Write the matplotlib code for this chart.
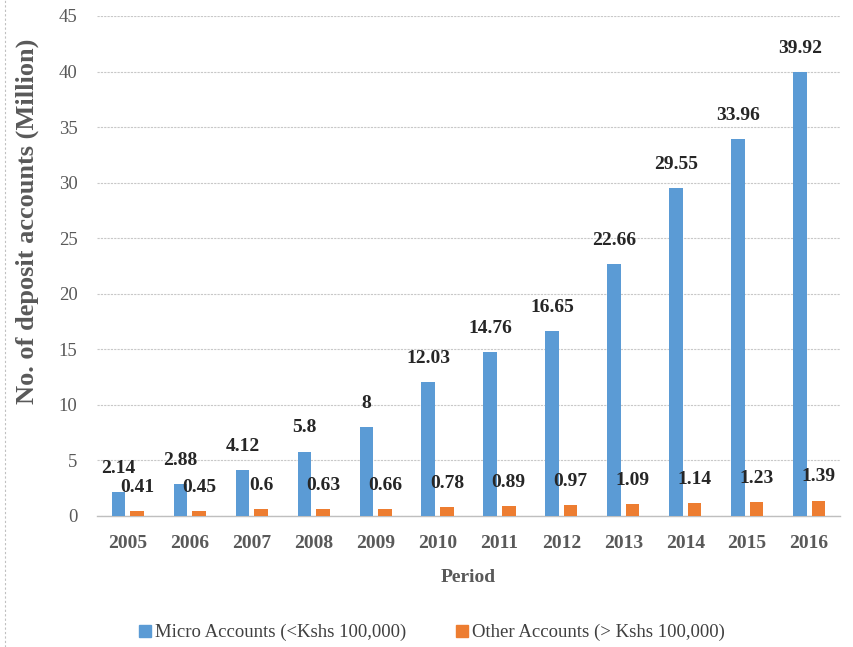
import numpy as np
import matplotlib
matplotlib.use("Agg")
import matplotlib.pyplot as plt
from matplotlib.lines import Line2D

years = ["2005", "2006", "2007", "2008", "2009", "2010",
         "2011", "2012", "2013", "2014", "2015", "2016"]
micro = [2.14, 2.88, 4.12, 5.8, 8, 12.03, 14.76, 16.65, 22.66, 29.55, 33.96, 39.92]
other = [0.41, 0.45, 0.6, 0.63, 0.66, 0.78, 0.89, 0.97, 1.09, 1.14, 1.23, 1.39]
microName = "Micro Accounts (<Kshs 100,000)"
otherName = "Other Accounts (> Kshs 100,000)"

blue = "#5B9BD5"
orange = "#ED7D31"
gray = "#595959"
serif = ["Liberation Serif", "DejaVu Serif"]

plt.rcParams["font.family"] = serif

fig = plt.figure(figsize=(8.54, 6.47), dpi=100)
ax = fig.add_axes([0.1136, 0.2025, 0.87, 0.7728])

x = np.arange(len(years))
w = 0.22
off = 0.15
barsM = ax.bar(x - off, micro, w, color=blue, zorder=3)
barsO = ax.bar(x + off, other, w, color=orange, zorder=3)

for bars, vals in [(barsM, micro), (barsO, other)]:
    for b, v in zip(bars, vals):
        ax.annotate(f"{v:g}", (b.get_x() + b.get_width() / 2, v),
                    xytext=(0, 17), textcoords="offset points",
                    ha="center", va="center", fontsize=14,
                    fontweight="bold", color="#262626")

ax.set_xlim(-0.5, len(years) - 0.5)
ax.set_ylim(0, 45)
ax.set_yticks(range(0, 46, 5))
ax.set_xticks(x)
ax.set_xticklabels(years, fontsize=14, fontweight="bold", color=gray)
ax.tick_params(axis="y", labelsize=13.5, colors=gray, length=0, pad=14)
ax.tick_params(axis="x", length=0, pad=14)
ax.grid(axis="y", color="#C8C8C8", linestyle=(0, (2, 1)), linewidth=0.8, zorder=0)
for s in ["top", "right", "left"]:
    ax.spines[s].set_visible(False)
ax.spines["bottom"].set_color("#BFBFBF")
ax.spines["bottom"].set_linewidth(1)

ax.set_ylabel("No. of deposit accounts (Million)", fontsize=19,
              fontweight="bold", color=gray, labelpad=14)
ax.yaxis.set_label_coords(-0.078, 0.59)
ax.set_xlabel("Period", fontsize=14, fontweight="bold", color=gray, labelpad=12)

handles = [Line2D([], [], marker="s", color=blue, linestyle="none", markersize=8),
           Line2D([], [], marker="s", color=orange, linestyle="none", markersize=8)]
leg = fig.legend(handles, [microName, otherName], loc="center",
                 bbox_to_anchor=(0.505, 0.022), ncol=2, frameon=False,
                 prop={"family": serif, "size": 13.5},
                 handletextpad=0.1, columnspacing=2.6, handlelength=0.8)
for t in leg.get_texts():
    t.set_color("#404040")

fig.add_artist(Line2D([0.006, 0.006], [0, 1], color="#C0C0C0",
                      linestyle=(0, (2, 2)), linewidth=0.8))

fig.savefig("out.png", dpi=100)
